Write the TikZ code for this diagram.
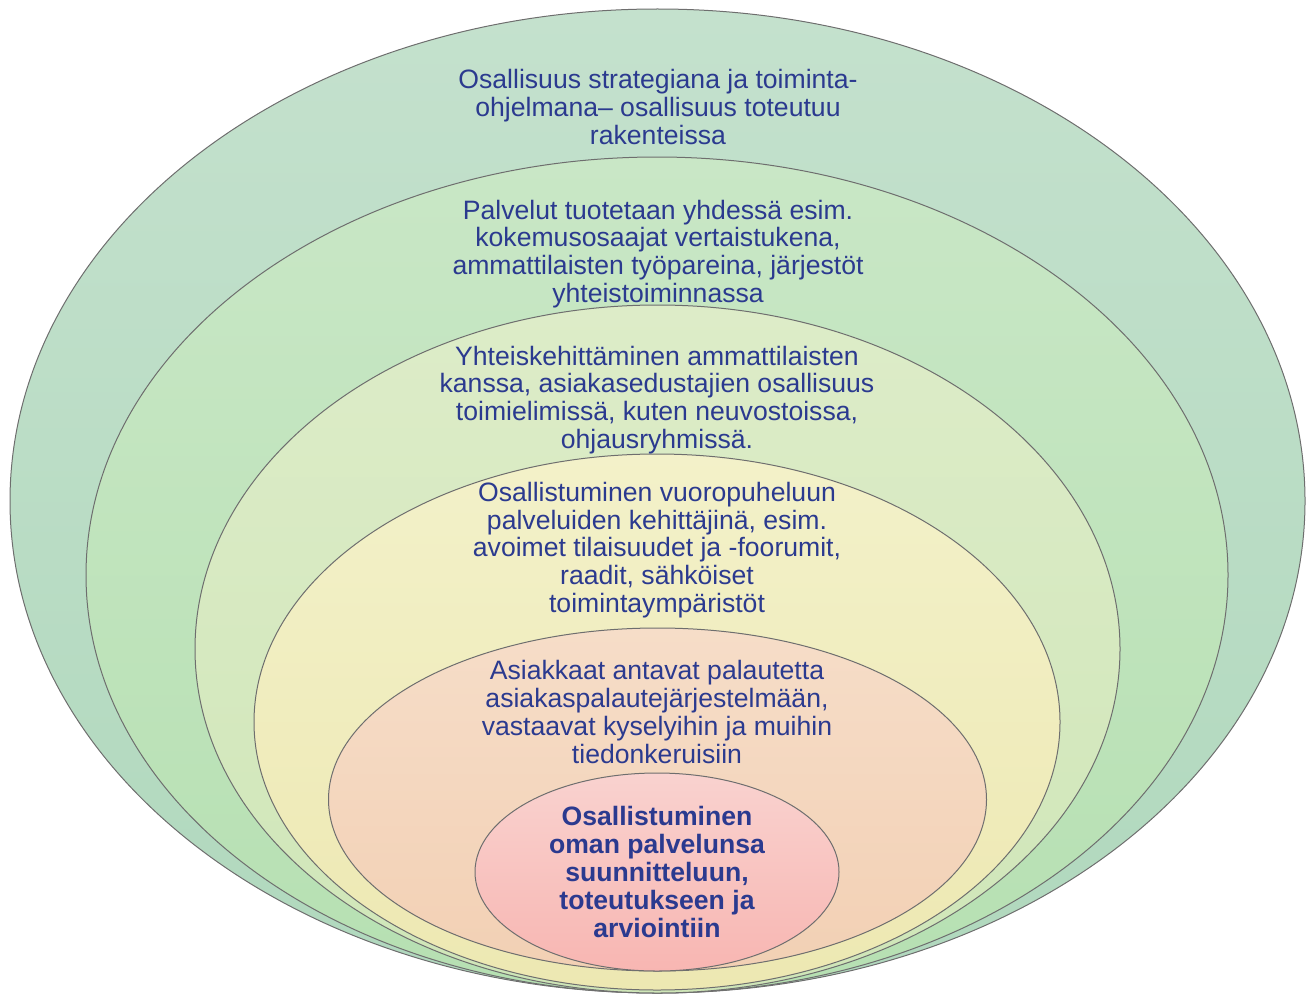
\documentclass[tikz,border=0pt]{standalone}
\usepackage{fontspec}
\setmainfont{Liberation Sans}
\definecolor{txt}{HTML}{2B3A8F}
\definecolor{edge}{HTML}{6E6E6E}
\definecolor{aT}{HTML}{C4E1CD}\definecolor{aB}{HTML}{B0D8BD}
\definecolor{bT}{HTML}{C9E7C6}\definecolor{bB}{HTML}{B6E0B2}
\definecolor{cT}{HTML}{DDECC8}\definecolor{cB}{HTML}{CFE6B8}
\definecolor{dT}{HTML}{F3F1C9}\definecolor{dB}{HTML}{EDE8B2}
\definecolor{eT}{HTML}{F6DDC8}\definecolor{eB}{HTML}{F2D0B4}
\definecolor{fT}{HTML}{F9D2CF}\definecolor{fB}{HTML}{F8B6B2}
\tikzset{
  ring/.style={draw=edge, line width=0.5pt},
  lbl/.style={text=txt, align=center, font=\fontsize{13.3}{13.9}\selectfont, inner sep=0pt},
  lblb/.style={lbl, font=\fontsize{13.3}{13.9}\selectfont\bfseries}
}
\begin{document}
\begin{tikzpicture}[x=0.5pt,y=-0.5pt]
\useasboundingbox (0,0) rectangle (1315,995);
\path[ring, top color=aT, bottom color=aB] (657.5,501) ellipse [x radius=323.75pt, y radius=246pt];
\path[ring, top color=bT, bottom color=bB] (657,575) ellipse [x radius=285.5pt, y radius=209pt];
\path[ring, top color=cT, bottom color=cB] (657.5,649) ellipse [x radius=231.25pt, y radius=172pt];
\path[ring, top color=dT, bottom color=dB] (657,722) ellipse [x radius=201.5pt, y radius=134pt];
\path[ring, top color=eT, bottom color=eB] (657.5,799.5) ellipse [x radius=164.5pt, y radius=85.75pt];
\path[ring, top color=fT, bottom color=fB] (657,872) ellipse [x radius=91pt, y radius=49.5pt];

\node[lbl] (t1) at (658,107) {Osallisuus strategiana ja toiminta-\\ohjelmana– osallisuus toteutuu\\rakenteissa};
\node[lbl] (t2) at (658,254) {Palvelut tuotetaan yhdessä esim.\\kokemusosaajat vertaistukena,\\ammattilaisten työpareina, järjestöt\\yhteistoiminnassa};
\node[lbl] (t3) at (657,400) {Yhteiskehittäminen ammattilaisten\\kanssa, asiakasedustajien osallisuus\\toimielimissä, kuten neuvostoissa,\\ohjausryhmissä.};
\node[lbl] (t4) at (657,550) {Osallistuminen vuoropuheluun\\palveluiden kehittäjinä, esim.\\avoimet tilaisuudet ja -foorumit,\\raadit, sähköiset\\toimintaympäristöt};
\node[lbl] (t5) at (657,712) {Asiakkaat antavat palautetta\\asiakaspalautejärjestelmään,\\vastaavat kyselyihin ja muihin\\tiedonkeruisiin};
\node[lblb] (t6) at (657,872) {Osallistuminen\\oman palvelunsa\\suunnitteluun,\\toteutukseen ja\\arviointiin};
\end{tikzpicture}
\end{document}
